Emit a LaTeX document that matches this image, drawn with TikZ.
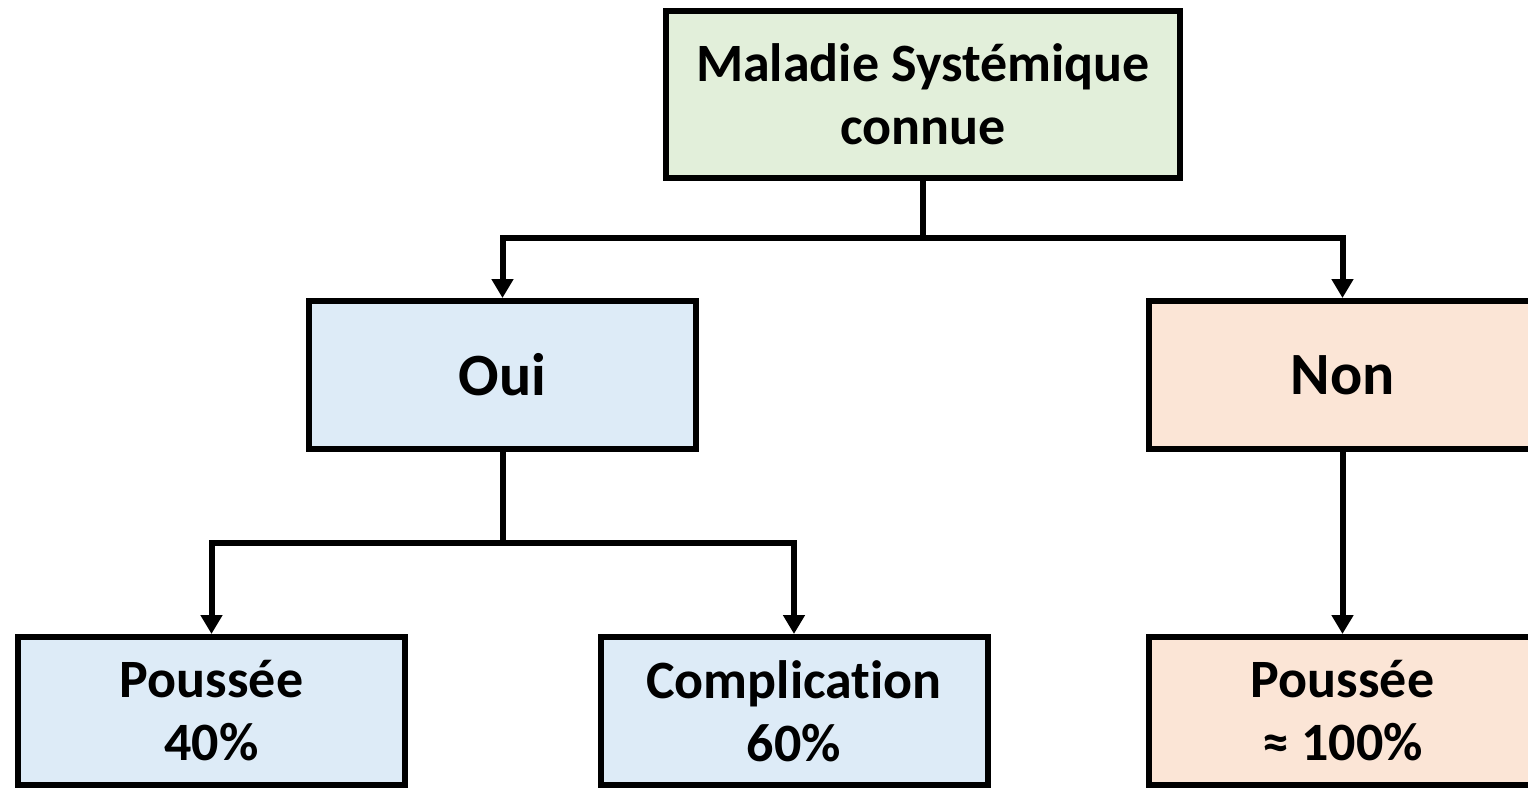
\documentclass[tikz,border=0pt]{standalone}
\usepackage{fontspec}
\setmainfont{Carlito}[Ligatures=NoCommon]
\usetikzlibrary{arrows.meta}
\definecolor{boxgreen}{HTML}{E2EFDA}
\definecolor{boxblue}{HTML}{DDEBF7}
\definecolor{boxorange}{HTML}{FBE5D6}
\begin{document}
\begin{tikzpicture}[x=1pt,y=-1pt,
  box/.style={draw=black,line width=6pt,rectangle,align=center,inner sep=0pt,
    font=\fontsize{54}{63}\selectfont\bfseries},
  bigbox/.style={box,font=\fontsize{60}{66}\selectfont\bfseries},
  conn/.style={draw=black,line width=6pt},
  arr/.style={conn,-{Triangle[width=21pt,length=19pt]}}]
\useasboundingbox (0,0) rectangle (1528,787);
\node[box,fill=boxgreen,minimum width=514pt,minimum height=167pt] (top) at (923,94.5) {Maladie Systémique\\connue};
\node[bigbox,fill=boxblue,minimum width=387pt,minimum height=148pt] (oui) at (502.5,375) {Oui};
\node[bigbox,fill=boxorange,minimum width=387pt,minimum height=148pt] (non) at (1342.5,375) {Non};
\node[box,fill=boxblue,minimum width=387pt,minimum height=148pt] (p40) at (211.5,711) {Poussée\\40\%};
\node[box,fill=boxblue,minimum width=387pt,minimum height=148pt] (c60) at (794,711) {Complication\\60\%};
\node[box,fill=boxorange,minimum width=387pt,minimum height=148pt] (p100) at (1342.5,711) {Poussée\\≈ 100\%};
\coordinate (j1) at (top.south |- 0,238);
\coordinate (j2) at (oui.south |- 0,543);
\draw[conn,line cap=rect] (top.south) -- (j1);
\draw[arr] (j1) -| (oui.north);
\draw[arr] (j1) -| (non.north);
\draw[conn,line cap=rect] (oui.south) -- (j2);
\draw[arr] (j2) -| (p40.north);
\draw[arr] (j2) -| (c60.north);
\draw[arr] (non.south) -- (p100.north);
\end{tikzpicture}
\end{document}
